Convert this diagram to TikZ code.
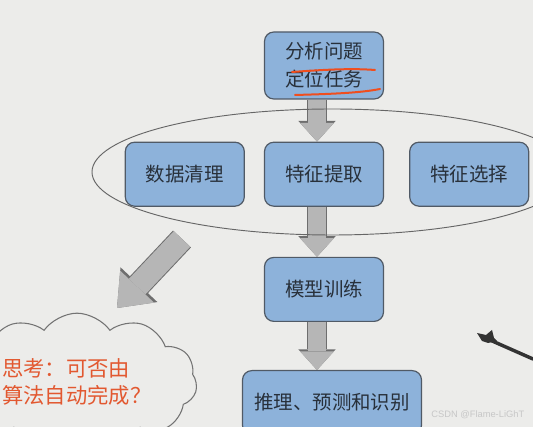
\documentclass[tikz,border=0pt]{standalone}
\usepackage{fontspec}
\setmainfont{Noto Sans CJK SC}
\newfontfamily\wmfont{Liberation Sans}
\usepackage{tikz}
\usetikzlibrary{positioning,shapes.geometric,shapes.symbols,arrows.meta}

\definecolor{bg}{RGB}{236,236,234}
\definecolor{boxblue}{RGB}{141,178,218}
\definecolor{boxedge}{RGB}{80,90,102}
\definecolor{boxtext}{RGB}{40,48,58}
\definecolor{arrowfill}{RGB}{182,182,182}
\definecolor{arrowedge}{RGB}{110,110,110}
\definecolor{thinkred}{RGB}{226,88,48}
\definecolor{markred}{RGB}{240,78,30}

\begin{document}
\begin{tikzpicture}[
    x=0.75pt, y=-0.75pt,
    node distance=31.5pt and 14.25pt,
    box/.style={rectangle, rounded corners=7pt, draw=boxedge, line width=0.9pt, fill=boxblue, text=boxtext, align=center, minimum width=89.25pt, minimum height=48pt, font=\fontsize{14.6}{21}\selectfont},
    flow/.style={line width=13.5pt, arrowfill, -{Triangle[width=25.5pt, length=14pt, line width=0pt]}, preaction={draw=arrowedge, line width=15pt, -{Triangle[width=28pt, length=15.5pt, line width=0pt]}}},
    hint/.style={line width=17pt, arrowfill, -{Triangle[width=35pt, length=22pt, line width=0pt]}, preaction={draw=arrowedge, line width=18.5pt, -{Triangle[width=38pt, length=24pt, line width=0pt]}}},
    redline/.style={markred, line width=1.5pt, line cap=round}
]
\path[use as bounding box, fill=bg] (0,0) rectangle (533,427);

% TASK
\node[box, minimum height=50.25pt] (task) at (324,65.5) {分析问题\\定位任务};

% FEATURE ROW
\node[box, below=of task] (feat) {特征提取};
\node[box, left=of feat] (clean) {数据清理};
\node[box, right=18.75pt of feat] (sel) {特征选择};

% TRAIN / INFER
\node[box, below=37.5pt of feat] (model) {模型训练};
\node[box, below=36pt of model, xshift=6pt, minimum width=134.25pt] (infer) {推理、预测和识别};

% THINK
\node[cloud, cloud puffs=11, cloud puff arc=110, aspect=1.9, draw=black!55, line width=0.8pt,
      minimum width=180pt, minimum height=92pt, inner sep=0pt, text=thinkred, align=left,
      font=\fontsize{16}{20}\selectfont] (think) at (77,382) {思考：可否由\\算法自动完成？};

% arrows
\coordinate (spine) at (317,0);
\coordinate (hintS) at (182,239);
\coordinate (hintE) at (117,308);
\draw[flow] (spine |- task.south) -- (spine |- feat.north);
\draw[flow] (spine |- feat.south) -- (spine |- model.north);
\draw[flow] (spine |- model.south) -- (spine |- infer.north);
\draw[hint] (hintS) -- (hintE);

% group ring
\node[ellipse, draw=black!60, line width=0.7pt, minimum width=360pt, minimum height=94.5pt] (ring) at (332,172) {};

% hand marks
\draw[redline] (292,72) .. controls (320,70) and (350,68) .. (375,70);
\draw[redline] (295,95) .. controls (330,94) and (360,93) .. (380,89);

% pen
\fill[black!80] (477,333) -- (486,335) -- (492,330) -- (494,338) -- (497,341) -- (488,343) -- (482,341) -- cycle;
\draw[black!80, line width=2.6pt, line cap=round] (490,340) -- (533,359);

\node[anchor=east, text=black!22, font=\wmfont\fontsize{7}{8}\selectfont] (wm) at (529,415) {CSDN @Flame-LiGhT};
\end{tikzpicture}
\end{document}
